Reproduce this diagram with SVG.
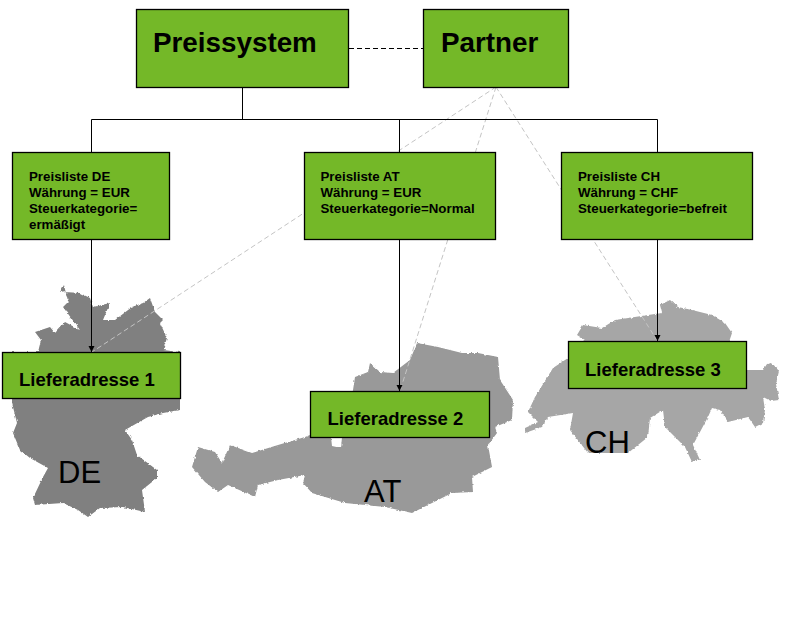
<svg xmlns="http://www.w3.org/2000/svg" width="800" height="640" viewBox="0 0 800 640">
<style>
.box{fill:#74b828;stroke:#000;stroke-width:1.3}
.t{font-family:"Liberation Sans",Arial,sans-serif;fill:#000}
.b28{font-size:27.8px;font-weight:bold}
.b13{font-size:13.3px;font-weight:bold}
.b18{font-size:18.5px;font-weight:bold}
.c{font-size:31px}
.line{fill:none;stroke:#000;stroke-width:1}
.grey{fill:none;stroke:#c4c4c4;stroke-width:1;stroke-dasharray:5 3}
.dash{fill:none;stroke:#000;stroke-width:1;stroke-dasharray:5 3}
</style>
<defs>
<marker id="arr" markerUnits="userSpaceOnUse" markerWidth="7" markerHeight="7" refX="6" refY="3.5" orient="auto"><path d="M0 0.5L6 3.5L0 6.5z" fill="#000"/></marker>
<filter id="rough" x="-5%" y="-5%" width="110%" height="110%" color-interpolation-filters="sRGB"><feTurbulence type="fractalNoise" baseFrequency="0.3" numOctaves="2" seed="4" result="n"/><feDisplacementMap in="SourceGraphic" in2="n" scale="3" xChannelSelector="R" yChannelSelector="G"/></filter>
</defs>
<g id="maps" filter="url(#rough)">
<path id="map-de" fill="#808080" d="M64 285L60 292L66 291L65 292L80 293L90 298L93 307L110 303L103 320L115 320L132 307L143 303L150 298L155 312L163 320L160 323L167 338L163 350L180 352L180 410L163 413L148 417L125 430L132 440L137 455L157 470L157 478L142 490L145 512L123 507L100 508L88 517L78 510L63 503L35 505L33 498L43 477L48 468L30 458L20 450L13 433L17 423L12 403L12 352L38 352L41 340L35 332L50 327L55 333L65 322L80 330L63 307L68 302z"/>
<path id="map-at" fill="#999" d="M417 343L438 347L462 353L478 353L498 357L500 380L513 400L512 420L495 427L497 433L488 445L492 467L472 477L473 492L452 493L412 513L385 507L345 503L312 493L303 483L305 475L278 480L258 485L255 497L228 485L218 492L205 482L192 467L198 447L215 452L222 463L230 445L252 453L278 445L305 437L310 435L331 437L332 446L341 448L342 437L353 390L355 377L368 372L370 363L380 372L393 373L410 360z"/>
<path id="map-ch" fill="#a6a6a6" d="M670 300L678 307L692 310L712 315L725 323L732 333L728 345L747 370L763 370L767 364L772 363L779 371L776 384L779 400L771 401L763 397L765 410L763 423L755 427L748 417L728 422L720 410L712 408L708 417L693 445L700 460L692 462L685 447L665 427L663 410L650 418L648 437L628 453L588 453L570 430L573 413L548 417L542 427L525 433L525 428L538 422L528 412L535 397L553 368L568 358L585 340L577 335L583 325L602 328L615 320L648 315L662 313L660 305z"/>
</g>
<g id="connectors">
<path class="grey" d="M496 87L92 352"/>
<path class="grey" d="M496 87L400 391"/>
<path class="grey" d="M496 87L657.500 341"/>
<path class="dash" d="M349 48.500H423"/>
<path class="line" d="M242.500 87V119.500M91.500 119.500H657.500M91.500 119.500V152M399.500 119.500V152M657.500 119.500V152"/>
<path class="line" marker-end="url(#arr)" d="M91.500 239V352"/>
<path class="line" marker-end="url(#arr)" d="M399.500 239V391"/>
<path class="line" marker-end="url(#arr)" d="M657.500 239V341"/>
</g>
<g id="preissystem"><rect class="box" x="136.500" y="9.500" width="212" height="78"/><text class="t b28" x="153" y="52">Preissystem</text></g>
<g id="partner"><rect class="box" x="423.500" y="9.500" width="145" height="78"/><text class="t b28" x="441" y="52">Partner</text></g>
<g id="preisliste-de"><rect class="box" x="12.500" y="152.500" width="157" height="87"/><text class="t b13" x="29" y="181">Preisliste DE</text><text class="t b13" x="29" y="197">Währung = EUR</text><text class="t b13" x="29" y="213">Steuerkategorie=</text><text class="t b13" x="29" y="229">ermäßigt</text></g>
<g id="preisliste-at"><rect class="box" x="304.500" y="152.500" width="191" height="87"/><text class="t b13" x="320.500" y="181">Preisliste AT</text><text class="t b13" x="320.500" y="197">Währung = EUR</text><text class="t b13" x="320.500" y="213">Steuerkategorie=Normal</text></g>
<g id="preisliste-ch"><rect class="box" x="561.500" y="152.500" width="191" height="87"/><text class="t b13" x="578" y="181">Preisliste CH</text><text class="t b13" x="578" y="197">Währung = CHF</text><text class="t b13" x="578" y="213">Steuerkategorie=befreit</text></g>
<g id="lieferadresse-1"><rect class="box" x="2.500" y="352.500" width="178" height="46"/><text class="t b18" x="19" y="386">Lieferadresse 1</text></g>
<g id="lieferadresse-2"><rect class="box" x="310.500" y="391.500" width="179" height="46"/><text class="t b18" x="327.500" y="425">Lieferadresse 2</text></g>
<g id="lieferadresse-3"><rect class="box" x="568.500" y="341.500" width="178" height="47"/><text class="t b18" x="585" y="376">Lieferadresse 3</text></g>
<g id="labels"><text class="t c" x="58" y="483">DE</text><text class="t c" x="364" y="502">AT</text><text class="t c" x="585" y="453">CH</text></g>
</svg>
